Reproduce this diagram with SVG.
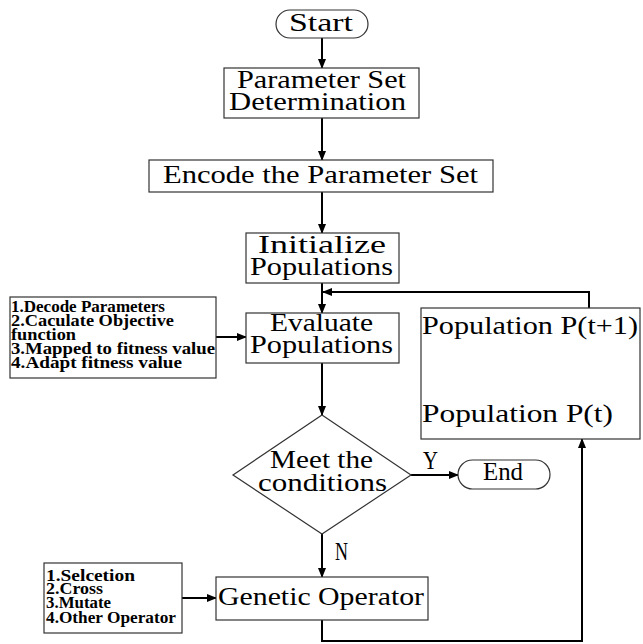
<svg xmlns="http://www.w3.org/2000/svg" width="643" height="644" viewBox="0 0 643 644">
<style>
.box{fill:#fff;stroke:#333;stroke-width:1.2}
.t{font-family:"Liberation Serif","Times New Roman",serif;font-size:26px;fill:#000}
.s{font-family:"Liberation Serif","Times New Roman",serif;font-size:16px;font-weight:bold;fill:#000}
.c{fill:none;stroke:#000;stroke-width:2}
</style>
<defs>
<marker id="a" markerUnits="userSpaceOnUse" markerWidth="10" markerHeight="8" refX="9" refY="4" orient="auto">
<path d="M0,0 L10,4 L0,8 Z" fill="#000"/>
</marker>
</defs>
<rect width="643" height="644" fill="#fff"/>
<g id="connectors">
<path class="c" d="M322,38 V68" marker-end="url(#a)"/>
<path class="c" d="M322,118 V160" marker-end="url(#a)"/>
<path class="c" d="M322,192 V233" marker-end="url(#a)"/>
<path class="c" d="M322,283 V313" marker-end="url(#a)"/>
<path class="c" d="M589,308 V292 H323" marker-end="url(#a)"/>
<path class="c" d="M322,363 V415" marker-end="url(#a)"/>
<path class="c" d="M411,475 H458" marker-end="url(#a)"/>
<path class="c" d="M322,534 V577" marker-end="url(#a)"/>
<path class="c" d="M322,620 V641 H582 V439" marker-end="url(#a)"/>
<path class="c" d="M512,400 V342" marker-end="url(#a)"/>
<path class="c" d="M216,337 H246" marker-end="url(#a)"/>
<path class="c" d="M182,598 H216" marker-end="url(#a)"/>
</g>
<g id="start">
<rect class="box" x="276" y="10" width="92" height="28" rx="14"/>
<text class="t" x="289" y="31" textLength="64" lengthAdjust="spacingAndGlyphs">Start</text>
</g>
<g id="param">
<rect class="box" x="224" y="68" width="195" height="50"/>
<text class="t" x="237" y="88" textLength="169" lengthAdjust="spacingAndGlyphs">Parameter Set</text>
<text class="t" x="229" y="110" textLength="177" lengthAdjust="spacingAndGlyphs">Determination</text>
</g>
<g id="encode">
<rect class="box" x="149" y="160" width="344" height="32"/>
<text class="t" x="163" y="183" textLength="315" lengthAdjust="spacingAndGlyphs">Encode the Parameter Set</text>
</g>
<g id="init">
<rect class="box" x="246" y="233" width="153" height="50"/>
<text class="t" x="258" y="253" textLength="128" lengthAdjust="spacingAndGlyphs">Initialize</text>
<text class="t" x="250" y="275" textLength="143" lengthAdjust="spacingAndGlyphs">Populations</text>
</g>
<g id="evaluate">
<rect class="box" x="246" y="313" width="153" height="50"/>
<text class="t" x="270" y="331" textLength="103" lengthAdjust="spacingAndGlyphs">Evaluate</text>
<text class="t" x="250" y="353" textLength="143" lengthAdjust="spacingAndGlyphs">Populations</text>
</g>
<g id="population">
<rect class="box" x="421" y="308" width="219" height="131"/>
<text class="t" x="422" y="334" textLength="216" lengthAdjust="spacingAndGlyphs">Population P(t+1)</text>
<text class="t" x="422" y="422" textLength="191" lengthAdjust="spacingAndGlyphs">Population P(t)</text>
</g>
<g id="decision">
<polygon class="box" points="322,415 411,475 322,534 233,475"/>
<text class="t" x="270" y="468" textLength="103" lengthAdjust="spacingAndGlyphs">Meet the</text>
<text class="t" x="258" y="491" textLength="129" lengthAdjust="spacingAndGlyphs">conditions</text>
</g>
<g id="labels">
<text class="t" x="423" y="469" textLength="15" lengthAdjust="spacingAndGlyphs">Y</text>
<text class="t" x="335" y="560" textLength="13" lengthAdjust="spacingAndGlyphs">N</text>
</g>
<g id="end">
<rect class="box" x="458" y="460" width="92" height="29" rx="14.5"/>
<text class="t" x="483" y="480" textLength="40" lengthAdjust="spacingAndGlyphs">End</text>
</g>
<g id="genetic">
<rect class="box" x="216" y="577" width="212" height="43"/>
<text class="t" x="218" y="605" textLength="206" lengthAdjust="spacingAndGlyphs">Genetic Operator</text>
</g>
<g id="evalsteps">
<rect class="box" x="10" y="297" width="206" height="81"/>
<text class="s" x="11" y="312" textLength="154" lengthAdjust="spacingAndGlyphs">1.Decode Parameters</text>
<text class="s" x="11" y="326" textLength="163" lengthAdjust="spacingAndGlyphs">2.Caculate Objective</text>
<text class="s" x="11" y="340" textLength="65" lengthAdjust="spacingAndGlyphs">function</text>
<text class="s" x="11" y="354" textLength="204" lengthAdjust="spacingAndGlyphs">3.Mapped to fitness value</text>
<text class="s" x="11" y="368" textLength="171" lengthAdjust="spacingAndGlyphs">4.Adapt fitness value</text>
</g>
<g id="opsteps">
<rect class="box" x="44" y="563" width="138" height="70"/>
<text class="s" x="46" y="581" textLength="89" lengthAdjust="spacingAndGlyphs">1.Selcetion</text>
<text class="s" x="46" y="594" textLength="57" lengthAdjust="spacingAndGlyphs">2.Cross</text>
<text class="s" x="46" y="608" textLength="65" lengthAdjust="spacingAndGlyphs">3.Mutate</text>
<text class="s" x="46" y="623" textLength="130" lengthAdjust="spacingAndGlyphs">4.Other Operator</text>
</g>
</svg>
